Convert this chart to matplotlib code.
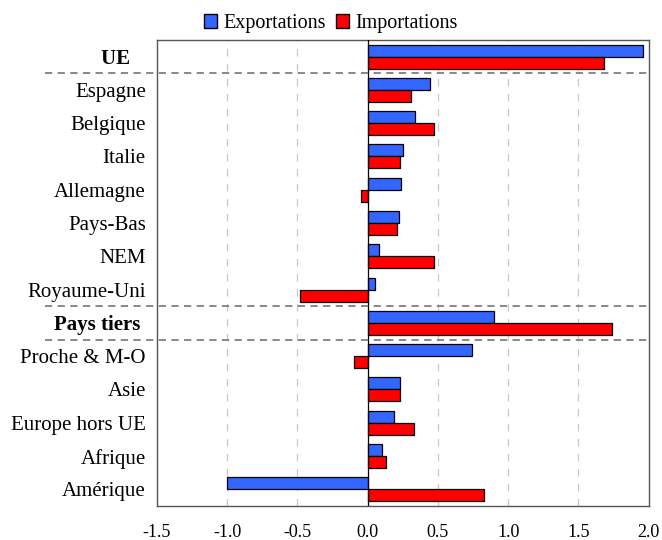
import numpy as np
import matplotlib
matplotlib.use("Agg")
import matplotlib.pyplot as plt
from matplotlib.patches import Patch

plt.rcParams["font.family"] = ["Liberation Serif", "DejaVu Serif"]

# Data
categories = ["UE", "Espagne", "Belgique", "Italie", "Allemagne", "Pays-Bas",
              "NEM", "Royaume-Uni", "Pays tiers", "Proche & M-O", "Asie",
              "Europe hors UE", "Afrique", "Amérique"]
exportations = [1.96, 0.44, 0.34, 0.25, 0.24, 0.22, 0.08, 0.05,
                0.90, 0.74, 0.23, 0.19, 0.10, -1.00]
importations = [1.68, 0.31, 0.47, 0.23, -0.05, 0.21, 0.47, -0.48,
                1.74, -0.10, 0.23, 0.33, 0.13, 0.83]
bold_cats = {"UE": "UE   ", "Pays tiers": "Pays tiers "}
x_ticks = [-1.5, -1.0, -0.5, 0.0, 0.5, 1.0, 1.5, 2.0]

blue = "#3366ff"
red = "#ff0000"

fig = plt.figure(figsize=(6.62, 5.4), dpi=100)
ax = fig.add_axes([0.237, 0.063, 0.743, 0.863])

y = np.arange(len(categories))
h = 0.36
ax.barh(y - h / 2, exportations, height=h, color=blue, edgecolor="black", linewidth=0.9, zorder=3)
ax.barh(y + h / 2, importations, height=h, color=red, edgecolor="black", linewidth=0.9, zorder=3)

ax.set_xlim(-1.5, 2.0)
ax.set_ylim(len(categories) - 0.5, -0.5)
ax.set_xticks(x_ticks)
ax.set_xticklabels([f"{t:.1f}" for t in x_ticks], fontsize=13)
ax.tick_params(axis="x", length=0, pad=13)
ax.tick_params(axis="y", length=0, pad=8)
ax.set_yticks(y)
ax.set_yticklabels([bold_cats.get(c, c) for c in categories], fontsize=15)
for lab in ax.get_yticklabels():
    if lab.get_text().strip() in bold_cats:
        lab.set_fontweight("bold")

# vertical dashed grid
for t in x_ticks[1:-1]:
    if t != 0:
        ax.axvline(t, color="#c8c8c8", linestyle=(0, (6, 6)), linewidth=0.9, zorder=1)
ax.axvline(0, color="black", linewidth=0.9, zorder=4)

# separators between groups
for s in [0.5, 7.5, 8.5]:
    ax.plot([-0.228, 1.0], [s, s], transform=ax.get_yaxis_transform(),
            color="#7f7f7f", linestyle=(0, (4, 3)), linewidth=1.3,
            clip_on=False, zorder=5)

for sp in ax.spines.values():
    sp.set_color("#555555")
    sp.set_linewidth(1.0)

handles = [Patch(facecolor=blue, edgecolor="black", label="Exportations"),
           Patch(facecolor=red, edgecolor="black", label="Importations")]
fig.legend(handles=handles, loc="center", bbox_to_anchor=(0.5, 0.956), ncol=2,
           frameon=False, fontsize=14.5, handlelength=0.65, handleheight=0.65,
           handletextpad=0.3, columnspacing=0.5)

fig.savefig("out.png", dpi=100)
